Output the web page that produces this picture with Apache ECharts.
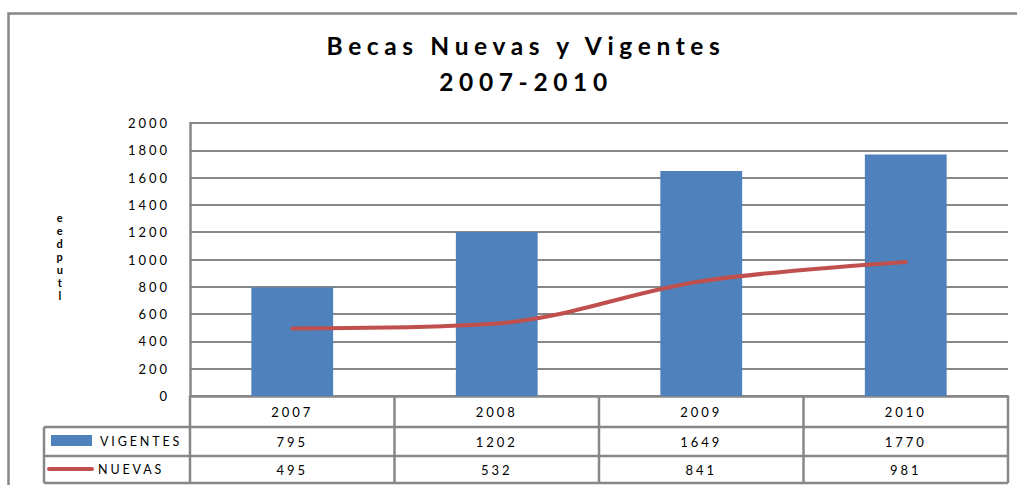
<!DOCTYPE html>
<html>
<head>
<meta charset="utf-8">
<script src="https://cdn.jsdelivr.net/npm/echarts@6/dist/echarts.min.js"></script>
<style>
html,body{margin:0;padding:0;background:#fff;}
#main{width:1017px;height:485px;}
#main text{letter-spacing:0.23em;}
</style>
</head>
<body>
<div id="main"></div>
<script>
const categories = ['2007', '2008', '2009', '2010'];
const vigentes = [795, 1202, 1649, 1770];
const nuevas = [495, 532, 841, 981];
const yTicks = [0, 200, 400, 600, 800, 1000, 1200, 1400, 1600, 1800, 2000];
const titleLines = ['Becas Nuevas y Vigentes', '2007-2010'];
const seriesNames = ['VIGENTES', 'NUEVAS'];
const yName = 'e\ne\nd\np\nu\nt\nl';

const GRAY = '#878787';
const FONT = 'Lato';
const FS = 13;
const chart = echarts.init(document.getElementById('main'), null, {renderer: 'svg'});

chart.setOption({
  animation: false,
  backgroundColor: '#fff',
  textStyle: {fontFamily: FONT},
  title: {
    text: titleLines.join('\n'),
    left: 521,
    textAlign: 'center',
    top: 22,
    textStyle: {fontFamily: FONT, fontSize: 24.5, fontWeight: 'bold', color: '#000', lineHeight: 36}
  },
  grid: {left: 190, right: 9, top: 123, bottom: 89, containLabel: false},
  xAxis: {
    type: 'category',
    data: categories,
    axisLine: {show: true, lineStyle: {color: GRAY, width: 2.5}},
    axisTick: {show: false},
    axisLabel: {show: true, margin: 9, fontSize: FS, color: '#000', fontFamily: FONT}
  },
  yAxis: {
    type: 'value',
    min: yTicks[0],
    max: yTicks[yTicks.length - 1],
    interval: yTicks[1] - yTicks[0],
    axisLine: {show: true, lineStyle: {color: GRAY, width: 2.5}},
    axisTick: {show: false},
    splitLine: {show: true, lineStyle: {color: GRAY, width: 2}},
    axisLabel: {margin: 20, fontSize: FS, color: '#000', fontFamily: FONT, formatter: v => String(v)}
  },
  series: [
    {
      name: seriesNames[0],
      type: 'bar',
      data: vigentes,
      barWidth: '40%',
      itemStyle: {color: '#4F81BD'}
    },
    {
      name: seriesNames[1],
      type: 'line',
      data: nuevas,
      smooth: 0.35,
      symbol: 'none',
      lineStyle: {color: '#C0504D', width: 4, cap: 'round'}
    }
  ]
});

// Build the data table below the axis from the arrays
const centers = categories.map((c, i) => chart.convertToPixel({xAxisIndex: 0}, i));
const bandW = centers.length > 1 ? centers[1] - centers[0] : 200;
const xLeft = centers[0] - bandW / 2;
const xRight = centers[centers.length - 1] + bandW / 2;
const yAxisBottom = chart.convertToPixel({yAxisIndex: 0}, 0);
const rowTops = [yAxisBottom, 427, 456, 483];
const legendLeft = 44;
const g = [];
const lineStyle = {stroke: GRAY, lineWidth: 2.5};
// outer frame
g.push({type: 'polyline', shape: {points: [[8.5, 485], [8.5, 13.5], [1017, 13.5]]}, style: {stroke: GRAY, lineWidth: 2.5, fill: null}, z: 100});
// horizontal table lines
for (let r = 1; r < rowTops.length; r++) {
  g.push({type: 'line', shape: {x1: legendLeft, y1: rowTops[r], x2: xRight, y2: rowTops[r]}, style: lineStyle, z: 100});
}
// vertical lines
for (let i = 0; i <= categories.length; i++) {
  const x = xLeft + i * bandW;
  g.push({type: 'line', shape: {x1: x, y1: rowTops[0], x2: x, y2: rowTops[3]}, style: lineStyle, z: 100});
}
g.push({type: 'line', shape: {x1: legendLeft, y1: rowTops[1], x2: legendLeft, y2: rowTops[3]}, style: lineStyle, z: 100});
// values
const rows = [vigentes, nuevas];
rows.forEach((arr, r) => {
  const yc = (rowTops[r + 1] + rowTops[r + 2]) / 2;
  arr.forEach((v, i) => {
    g.push({type: 'text', x: centers[i], y: yc, style: {text: String(v), fontSize: FS, fontFamily: FONT, fill: '#000', align: 'center', verticalAlign: 'middle'}, z: 101});
  });
});
// legend keys
g.push({type: 'rect', shape: {x: 51, y: 435, width: 41, height: 11}, style: {fill: '#4F81BD'}, z: 101});
g.push({type: 'line', shape: {x1: 49, y1: 469, x2: 92, y2: 469}, style: {stroke: '#C0504D', lineWidth: 4, lineCap: 'round'}, z: 101});
g.push({type: 'text', x: 100, y: (rowTops[1] + rowTops[2]) / 2, style: {text: seriesNames[0], fontSize: 12.5, fontFamily: FONT, fill: '#000', align: 'left', verticalAlign: 'middle'}, z: 101});
g.push({type: 'text', x: 98, y: (rowTops[2] + rowTops[3]) / 2, style: {text: seriesNames[1], fontSize: 12.5, fontFamily: FONT, fill: '#000', align: 'left', verticalAlign: 'middle'}, z: 101});
// vertical y-axis name (stacked letters)
g.push({type: 'text', x: 61, y: 256, style: {text: yName, fontSize: 11, fontWeight: 'bold', fontFamily: FONT, fill: '#000', align: 'center', verticalAlign: 'middle', lineHeight: 13}, z: 101});

chart.setOption({graphic: g});
</script>
</body>
</html>
